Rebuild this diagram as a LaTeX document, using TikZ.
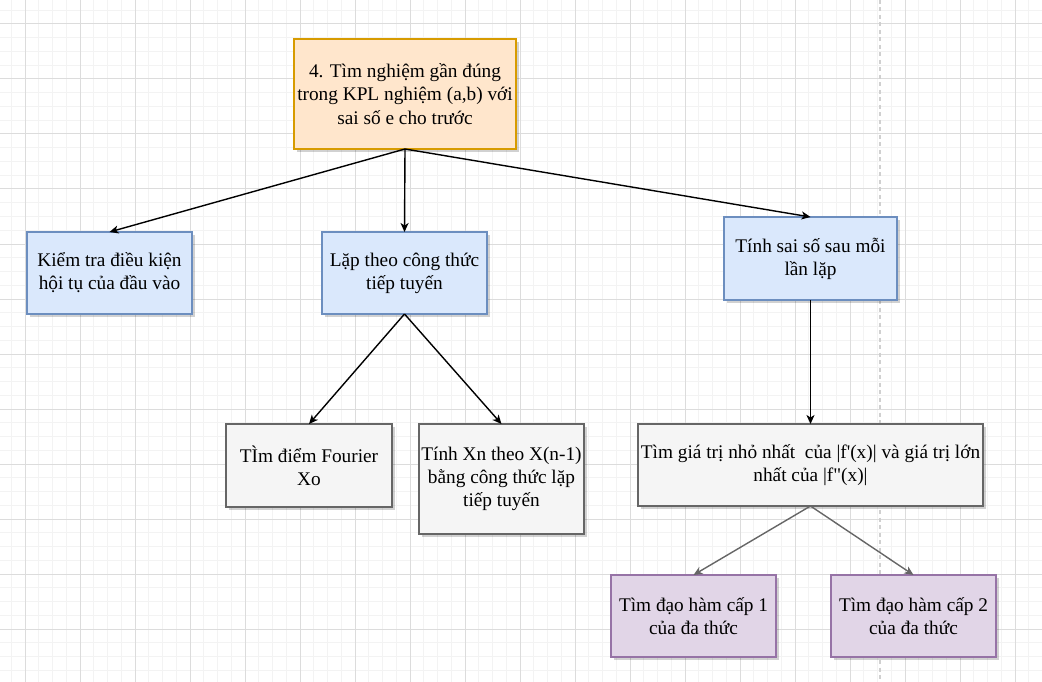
\documentclass[tikz,border=0pt]{standalone}
\usepackage{fontspec}
\newfontfamily\tnr{Liberation Serif}
\usetikzlibrary{arrows.meta,shadows}
\definecolor{orF}{HTML}{FFE6CC}\definecolor{orD}{HTML}{D79B00}
\definecolor{blF}{HTML}{DAE8FC}\definecolor{blD}{HTML}{6C8EBF}
\definecolor{grF}{HTML}{F5F5F5}\definecolor{grD}{HTML}{666666}
\definecolor{puF}{HTML}{E1D5E7}\definecolor{puD}{HTML}{9673A6}
\definecolor{gridminor}{HTML}{F3F3F3}\definecolor{gridmajor}{HTML}{DCDCDC}
\definecolor{dashc}{HTML}{D0D0D0}
\begin{document}
\begin{tikzpicture}[x=1pt,y=-1pt,
  box/.style={draw, line width=1.2pt, anchor=north west, inner sep=0pt, outer sep=0pt,
    align=center, font=\tnr\fontsize{19.3}{23.2}\selectfont,
    drop shadow={shadow xshift=2.5pt, shadow yshift=-3pt, opacity=0.18, fill=black}},
  orbox/.style={box, fill=orF, draw=orD},
  blbox/.style={box, fill=blF, draw=blD},
  grbox/.style={box, fill=grF, draw=grD},
  pubox/.style={box, fill=puF, draw=puD},
  conn/.style={draw=black, line width=1.4pt, -{Stealth[length=9pt,width=8pt,inset=2.5pt]}},
  gconn/.style={draw=grD, line width=1.4pt, -{Stealth[length=9pt,width=8pt,inset=2.5pt]}}]
\useasboundingbox (0,0) rectangle (1042,682);
\fill[white] (0,0) rectangle (1042,682);
% grid
\foreach \i in {0,...,76} {\draw[gridminor, line width=1pt] (11.25+\i*13.75,0) -- (11.25+\i*13.75,682);}
\foreach \i in {0,...,50} {\draw[gridminor, line width=1pt] (0,10.25+\i*13.75) -- (1042,10.25+\i*13.75);}
\foreach \i in {0,...,18} {\draw[gridmajor, line width=1pt] (25+\i*55,0) -- (25+\i*55,682);}
\foreach \i in {0,...,12} {\draw[gridmajor, line width=1pt] (0,24+\i*55) -- (1042,24+\i*55);}
\draw[dashc, line width=2pt, dash pattern=on 4pt off 3.5pt] (880,0) -- (880,682);
% nodes
\node[orbox, minimum width=222pt, minimum height=110pt] (top) at (294,39)
  {4. Tìm nghiệm gần đúng\\trong KPL nghiệm (a,b) với\\sai số e cho trước};
\node[blbox, minimum width=165pt, minimum height=82pt] (a) at (27,232)
  {Kiểm tra điều kiện\\hội tụ của đầu vào};
\node[blbox, minimum width=165pt, minimum height=82pt] (b) at (322,232)
  {Lặp theo công thức\\tiếp tuyến};
\node[blbox, minimum width=173pt, minimum height=83pt] (c) at (724,217)
  {Tính sai số sau mỗi\\lần lặp};
\node[grbox, minimum width=166pt, minimum height=83pt] (d) at (226,424)
  {TÌm điểm Fourier\\Xo};
\node[grbox, minimum width=165pt, minimum height=110pt] (e) at (419,424)
  {Tính Xn theo X(n-1)\\bằng công thức lặp\\tiếp tuyến};
\node[grbox, minimum width=345pt, minimum height=82pt] (f) at (638,424)
  {Tìm giá trị nhỏ nhất\ \ của |f'(x)| và giá trị lớn\\nhất của |f"(x)|};
\node[pubox, minimum width=165pt, minimum height=82pt] (g) at (611,575)
  {Tìm đạo hàm cấp 1\\của đa thức};
\node[pubox, minimum width=165pt, minimum height=82pt] (h) at (831,575)
  {Tìm đạo hàm cấp 2\\của đa thức};
% connectors
\draw[conn] (top.south) -- (a.north);
\draw[conn] (top.south) -- (b.north);
\draw[conn] (top.south) -- (c.north);
\draw[conn] (b.south) -- (d.north);
\draw[conn] (b.south) -- (e.north);
\draw[conn] (c.south) -- (f.north);
\draw[gconn] (f.south) -- (g.north);
\draw[gconn] (f.south) -- (h.north);
\end{tikzpicture}
\end{document}
